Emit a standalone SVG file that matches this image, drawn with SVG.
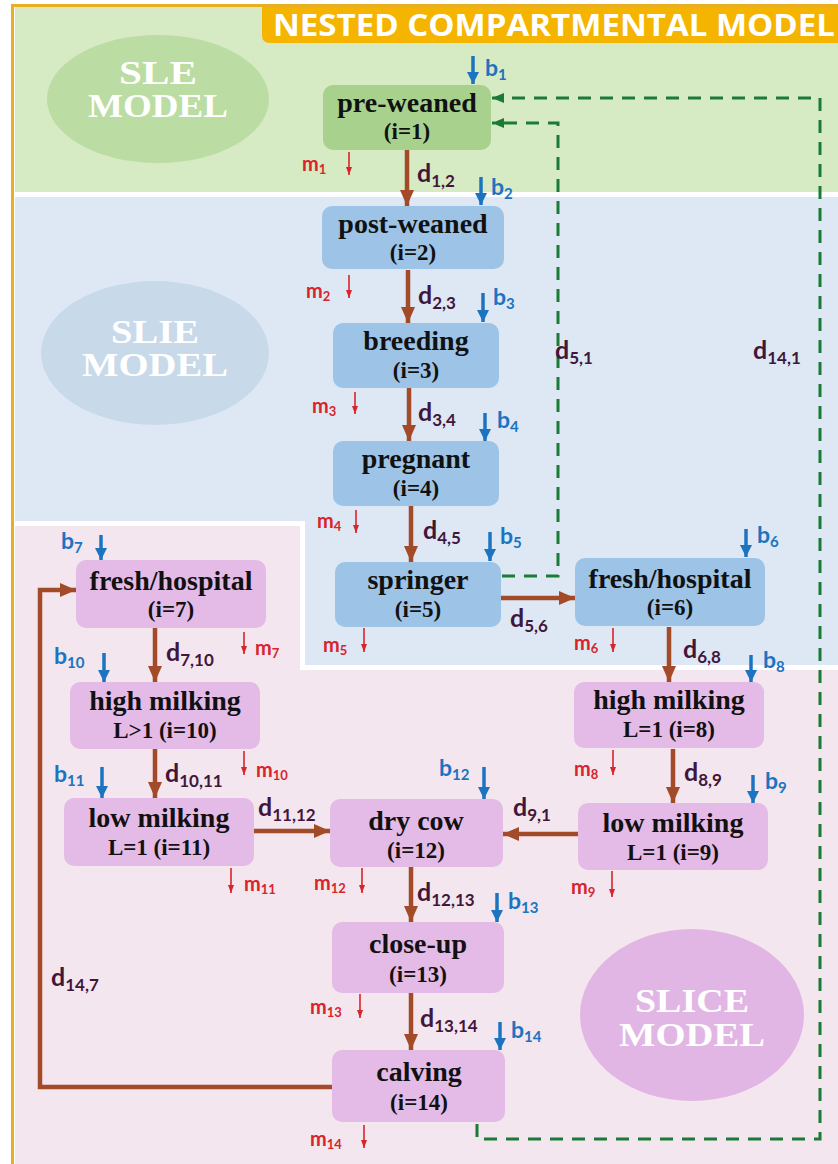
<svg xmlns="http://www.w3.org/2000/svg" width="838" height="1164" viewBox="0 0 838 1164">
<defs>
<style>
.node text{font-family:"Liberation Serif","Times New Roman",serif;font-weight:bold;fill:#111;text-anchor:middle}
.t1{font-size:28px}
.t2{font-size:23px}
.gn{fill:#a9d18e}
.bn{fill:#9dc3e6}
.pn{fill:#e4bbe6}
.big{font-family:"Liberation Serif","Times New Roman",serif;font-weight:bold;font-size:33px;fill:#fff;text-anchor:middle}
.br{fill:none;stroke:#a34a28;stroke-width:4.5}
.gd{fill:none;stroke:#1b7a35;stroke-width:3;stroke-dasharray:13 9}
.ba{fill:none;stroke:#1c74c0;stroke-width:3.5}
.ma{fill:none;stroke:#d8242b;stroke-width:1.6}
.lab{font-family:Lato,"Open Sans",sans-serif;font-weight:bold}
.dl{font-size:25px;fill:#42163a}
.bl{font-size:23px;fill:#1c74c0}
.ml{font-size:20px;fill:#d8242b}
.s1{font-size:17px}
.s2{font-size:15px}
.s3{font-size:13px}
</style>
<marker id="ab" viewBox="0 0 16 16" refX="16" refY="8" markerWidth="16" markerHeight="16" markerUnits="userSpaceOnUse" orient="auto"><path d="M0,1 L16,8 L0,15 z" fill="#a34a28"/></marker>
<marker id="abl" viewBox="0 0 12 12" refX="12" refY="6" markerWidth="12" markerHeight="12" markerUnits="userSpaceOnUse" orient="auto"><path d="M0,0 L12,6 L0,12 z" fill="#1c74c0"/></marker>
<marker id="am" viewBox="0 0 8 6" refX="8" refY="3" markerWidth="8" markerHeight="6" markerUnits="userSpaceOnUse" orient="auto"><path d="M0,0 L8,3 L0,6 z" fill="#d8242b"/></marker>
<marker id="ag" viewBox="0 0 12 12" refX="12" refY="6" markerWidth="12" markerHeight="12" markerUnits="userSpaceOnUse" orient="auto"><path d="M0,1 L12,6 L0,11 z" fill="#1b7a35"/></marker>
</defs>

<g id="background">
<rect x="0" y="0" width="838" height="1164" fill="#fff"/>
<rect x="15" y="7" width="823" height="185" fill="#d6eac4"/>
<path d="M15,197 H838 V665 H305 V521 H15 Z" fill="#dde8f4"/>
<path d="M15,526 H300 V670 H838 V1164 H15 Z" fill="#f3e6ef"/>
<rect x="11" y="4" width="827" height="3" fill="#e8b020"/>
<rect x="11" y="4" width="3" height="1160" fill="#e8b020"/>
<path d="M262,7 H838 V43 H270 Q262,43 262,35 Z" fill="#f5b400"/>
<text x="273" y="36" font-family="'Open Sans',Lato,sans-serif" font-weight="bold" font-size="30" fill="#fff" textLength="562" lengthAdjust="spacingAndGlyphs">NESTED COMPARTMENTAL MODEL</text>
</g>

<g id="model-labels">
<ellipse cx="158" cy="99" rx="111" ry="64" fill="#bbdca2"/>
<text class="big" x="158" y="84" textLength="78" lengthAdjust="spacingAndGlyphs">SLE</text>
<text class="big" x="158" y="117" textLength="140" lengthAdjust="spacingAndGlyphs">MODEL</text>
<ellipse cx="155" cy="353" rx="114" ry="72" fill="#c8d9e9"/>
<text class="big" x="155" y="343" textLength="88" lengthAdjust="spacingAndGlyphs">SLIE</text>
<text class="big" x="155" y="376" textLength="146" lengthAdjust="spacingAndGlyphs">MODEL</text>
<ellipse cx="692" cy="1015" rx="112" ry="86" fill="#e2b6e4"/>
<text class="big" x="692" y="1012" textLength="114" lengthAdjust="spacingAndGlyphs">SLICE</text>
<text class="big" x="692" y="1046" textLength="146" lengthAdjust="spacingAndGlyphs">MODEL</text>
</g>

<g id="connectors">
<path class="br" d="M407,150 V206" marker-end="url(#ab)"/>
<path class="br" d="M408,270 V323" marker-end="url(#ab)"/>
<path class="br" d="M409,388 V441" marker-end="url(#ab)"/>
<path class="br" d="M411,506 V562" marker-end="url(#ab)"/>
<path class="br" d="M501,598 H575" marker-end="url(#ab)"/>
<path class="br" d="M669,627 V682" marker-end="url(#ab)"/>
<path class="br" d="M673,749 V803" marker-end="url(#ab)"/>
<path class="br" d="M578,834 H503" marker-end="url(#ab)"/>
<path class="br" d="M155,628 V682" marker-end="url(#ab)"/>
<path class="br" d="M155,749 V798" marker-end="url(#ab)"/>
<path class="br" d="M254,831 H330" marker-end="url(#ab)"/>
<path class="br" d="M411,867 V922" marker-end="url(#ab)"/>
<path class="br" d="M411,993 V1050" marker-end="url(#ab)"/>
<path class="br" d="M332,1087 H40 V590 H76" marker-end="url(#ab)"/>
<path class="gd" d="M477,1124 V1139 H820 V98 H492" marker-end="url(#ag)"/>
<path class="gd" d="M502,576 H558 V123 H492" marker-end="url(#ag)"/>
<path class="ba" d="M473,56 V84" marker-end="url(#abl)"/>
<path class="ba" d="M481,177 V205" marker-end="url(#abl)"/>
<path class="ba" d="M483,293 V322" marker-end="url(#abl)"/>
<path class="ba" d="M485,413 V441" marker-end="url(#abl)"/>
<path class="ba" d="M490,532 V561" marker-end="url(#abl)"/>
<path class="ba" d="M746,529 V557" marker-end="url(#abl)"/>
<path class="ba" d="M101,535 V560" marker-end="url(#abl)"/>
<path class="ba" d="M751,655 V682" marker-end="url(#abl)"/>
<path class="ba" d="M753,775 V803" marker-end="url(#abl)"/>
<path class="ba" d="M104,653 V682" marker-end="url(#abl)"/>
<path class="ba" d="M102,767 V798" marker-end="url(#abl)"/>
<path class="ba" d="M484,767 V799" marker-end="url(#abl)"/>
<path class="ba" d="M497,893 V922" marker-end="url(#abl)"/>
<path class="ba" d="M500,1022 V1050" marker-end="url(#abl)"/>
<path class="ma" d="M349,152 V175" marker-end="url(#am)"/>
<path class="ma" d="M349,275 V298" marker-end="url(#am)"/>
<path class="ma" d="M355,392 V414" marker-end="url(#am)"/>
<path class="ma" d="M356,510 V533" marker-end="url(#am)"/>
<path class="ma" d="M364,628 V652" marker-end="url(#am)"/>
<path class="ma" d="M613,628 V652" marker-end="url(#am)"/>
<path class="ma" d="M244,632 V654" marker-end="url(#am)"/>
<path class="ma" d="M613,750 V775" marker-end="url(#am)"/>
<path class="ma" d="M612,871 V897" marker-end="url(#am)"/>
<path class="ma" d="M244,751 V775" marker-end="url(#am)"/>
<path class="ma" d="M231,868 V893" marker-end="url(#am)"/>
<path class="ma" d="M362,868 V893" marker-end="url(#am)"/>
<path class="ma" d="M360,994 V1018" marker-end="url(#am)"/>
<path class="ma" d="M364,1125 V1148" marker-end="url(#am)"/>

<g class="lab">
<text class="dl" x="417" y="182">d<tspan class="s1" dy="5">1,2</tspan></text>
<text class="dl" x="418" y="304">d<tspan class="s1" dy="5">2,3</tspan></text>
<text class="dl" x="418" y="421">d<tspan class="s1" dy="5">3,4</tspan></text>
<text class="dl" x="423" y="539">d<tspan class="s1" dy="5">4,5</tspan></text>
<text class="dl" x="510" y="627">d<tspan class="s1" dy="5">5,6</tspan></text>
<text class="dl" x="683" y="658">d<tspan class="s1" dy="5">6,8</tspan></text>
<text class="dl" x="684" y="781">d<tspan class="s1" dy="5">8,9</tspan></text>
<text class="dl" x="513" y="816">d<tspan class="s1" dy="5">9,1</tspan></text>
<text class="dl" x="166" y="661">d<tspan class="s1" dy="5">7,10</tspan></text>
<text class="dl" x="165" y="782">d<tspan class="s1" dy="5">10,11</tspan></text>
<text class="dl" x="258" y="816">d<tspan class="s1" dy="5">11,12</tspan></text>
<text class="dl" x="417" y="901">d<tspan class="s1" dy="5">12,13</tspan></text>
<text class="dl" x="420" y="1027">d<tspan class="s1" dy="5">13,14</tspan></text>
<text class="dl" x="51" y="986">d<tspan class="s1" dy="5">14,7</tspan></text>
<text class="dl" x="555" y="359">d<tspan class="s1" dy="5">5,1</tspan></text>
<text class="dl" x="753" y="359">d<tspan class="s1" dy="5">14,1</tspan></text>

<text class="bl" x="485" y="76">b<tspan class="s2" dy="4">1</tspan></text>
<text class="bl" x="491" y="195">b<tspan class="s2" dy="4">2</tspan></text>
<text class="bl" x="493" y="305">b<tspan class="s2" dy="4">3</tspan></text>
<text class="bl" x="497" y="428">b<tspan class="s2" dy="4">4</tspan></text>
<text class="bl" x="500" y="544">b<tspan class="s2" dy="4">5</tspan></text>
<text class="bl" x="757" y="543">b<tspan class="s2" dy="4">6</tspan></text>
<text class="bl" x="61" y="549">b<tspan class="s2" dy="4">7</tspan></text>
<text class="bl" x="763" y="668">b<tspan class="s2" dy="4">8</tspan></text>
<text class="bl" x="765" y="789">b<tspan class="s2" dy="4">9</tspan></text>
<text class="bl" x="54" y="664">b<tspan class="s2" dy="4">10</tspan></text>
<text class="bl" x="54" y="782">b<tspan class="s2" dy="4">11</tspan></text>
<text class="bl" x="439" y="776">b<tspan class="s2" dy="4">12</tspan></text>
<text class="bl" x="508" y="909">b<tspan class="s2" dy="4">13</tspan></text>
<text class="bl" x="511" y="1038">b<tspan class="s2" dy="4">14</tspan></text>

<text class="ml" x="302" y="171">m<tspan class="s3" dy="3">1</tspan></text>
<text class="ml" x="306" y="298">m<tspan class="s3" dy="3">2</tspan></text>
<text class="ml" x="312" y="413">m<tspan class="s3" dy="3">3</tspan></text>
<text class="ml" x="317" y="528">m<tspan class="s3" dy="3">4</tspan></text>
<text class="ml" x="323" y="652">m<tspan class="s3" dy="3">5</tspan></text>
<text class="ml" x="574" y="650">m<tspan class="s3" dy="3">6</tspan></text>
<text class="ml" x="255" y="655">m<tspan class="s3" dy="3">7</tspan></text>
<text class="ml" x="574" y="776">m<tspan class="s3" dy="3">8</tspan></text>
<text class="ml" x="571" y="894">m<tspan class="s3" dy="3">9</tspan></text>
<text class="ml" x="256" y="777">m<tspan class="s3" dy="3">10</tspan></text>
<text class="ml" x="244" y="891">m<tspan class="s3" dy="3">11</tspan></text>
<text class="ml" x="314" y="890">m<tspan class="s3" dy="3">12</tspan></text>
<text class="ml" x="310" y="1014">m<tspan class="s3" dy="3">13</tspan></text>
<text class="ml" x="310" y="1146">m<tspan class="s3" dy="3">14</tspan></text>
</g>
</g>

<g id="n1" class="node"><rect class="gn" x="323" y="85" width="168" height="65" rx="10"/><text class="t1" x="407" y="112">pre-weaned</text><text class="t2" x="407" y="139">(i=1)</text></g>
<g id="n2" class="node"><rect class="bn" x="322" y="206" width="182" height="63" rx="10"/><text class="t1" x="413" y="233">post-weaned</text><text class="t2" x="413" y="260">(i=2)</text></g>
<g id="n3" class="node"><rect class="bn" x="333" y="323" width="166" height="65" rx="10"/><text class="t1" x="416" y="350">breeding</text><text class="t2" x="416" y="378">(i=3)</text></g>
<g id="n4" class="node"><rect class="bn" x="333" y="441" width="166" height="65" rx="10"/><text class="t1" x="416" y="468">pregnant</text><text class="t2" x="416" y="496">(i=4)</text></g>
<g id="n5" class="node"><rect class="bn" x="335" y="562" width="166" height="65" rx="10"/><text class="t1" x="418" y="589">springer</text><text class="t2" x="418" y="617">(i=5)</text></g>
<g id="n6" class="node"><rect class="bn" x="575" y="558" width="190" height="68" rx="10"/><text class="t1" x="670" y="588">fresh/hospital</text><text class="t2" x="670" y="615">(i=6)</text></g>
<g id="n7" class="node"><rect class="pn" x="76" y="560" width="190" height="68" rx="10"/><text class="t1" x="171" y="590">fresh/hospital</text><text class="t2" x="171" y="617">(i=7)</text></g>
<g id="n8" class="node"><rect class="pn" x="574" y="682" width="190" height="66" rx="10"/><text class="t1" x="669" y="709">high milking</text><text class="t2" x="669" y="737">L=1 (i=8)</text></g>
<g id="n9" class="node"><rect class="pn" x="578" y="803" width="190" height="67" rx="10"/><text class="t1" x="673" y="832">low milking</text><text class="t2" x="673" y="860">L=1 (i=9)</text></g>
<g id="n10" class="node"><rect class="pn" x="70" y="682" width="190" height="67" rx="10"/><text class="t1" x="165" y="710">high milking</text><text class="t2" x="165" y="738">L&gt;1 (i=10)</text></g>
<g id="n11" class="node"><rect class="pn" x="64" y="798" width="190" height="68" rx="10"/><text class="t1" x="159" y="827">low milking</text><text class="t2" x="159" y="855">L=1 (i=11)</text></g>
<g id="n12" class="node"><rect class="pn" x="330" y="799" width="173" height="68" rx="10"/><text class="t1" x="416" y="830">dry cow</text><text class="t2" x="416" y="858">(i=12)</text></g>
<g id="n13" class="node"><rect class="pn" x="332" y="922" width="172" height="71" rx="10"/><text class="t1" x="418" y="953">close-up</text><text class="t2" x="418" y="982">(i=13)</text></g>
<g id="n14" class="node"><rect class="pn" x="332" y="1050" width="173" height="72" rx="10"/><text class="t1" x="419" y="1081">calving</text><text class="t2" x="419" y="1110">(i=14)</text></g>
</svg>
